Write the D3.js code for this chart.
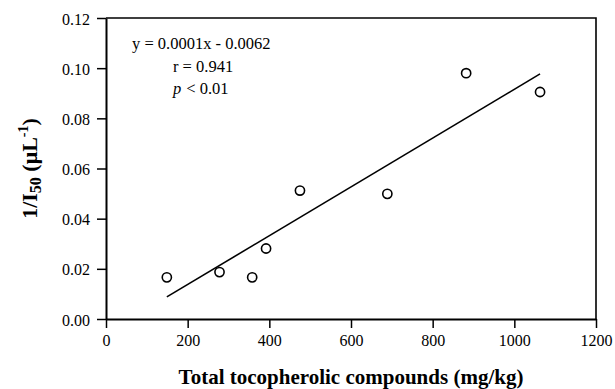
<!DOCTYPE html>
<html>
<head>
<meta charset="utf-8">
<script src="https://cdn.jsdelivr.net/npm/d3@7"></script>
<style>
  body { margin: 0; background: #fff; }
  svg text { font-family: "Liberation Serif", "Times New Roman", serif; fill: #000; }
</style>
</head>
<body>
<svg id="chart" width="615" height="389"></svg>
<script>
const tocopherol = [149, 278, 358, 392, 475, 689, 882, 1063];
const inhibition = [0.0166, 0.0187, 0.0166, 0.0281, 0.0512, 0.0499, 0.0980, 0.0905];
const fitX = [149, 1063];
const fitY = [0.0088, 0.0977];
const xTicks = [0, 200, 400, 600, 800, 1000, 1200];
const yTicks = [0, 0.02, 0.04, 0.06, 0.08, 0.10, 0.12];
const statLines = ['y = 0.0001x - 0.0062', 'r = 0.941', '< 0.01'];

const margin = { top: 18, right: 19, bottom: 70, left: 106 },
  width = 615 - margin.left - margin.right,
  height = 389 - margin.top - margin.bottom;

const svg = d3.select('#chart');
const g = svg.append('g')
  .attr('transform', 'translate(' + margin.left + ',' + margin.top + ')');

const x = d3.scaleLinear().domain([0, 1200]).range([0, width]);
const y = d3.scaleLinear().domain([0, 0.12]).range([height, 0]);

// frame (top + right)
g.append('path')
  .attr('d', 'M0,0H' + width + 'V' + height)
  .attr('fill', 'none')
  .attr('stroke', '#000')
  .attr('stroke-width', 1.6);

const xAxis = g.append('g')
  .attr('transform', 'translate(0,' + height + ')')
  .call(d3.axisBottom(x).tickValues(xTicks).tickSize(9).tickSizeOuter(0).tickPadding(7).tickFormat(d3.format('d')));

const yAxis = g.append('g')
  .call(d3.axisLeft(y).tickValues(yTicks).tickSize(9).tickSizeOuter(0).tickPadding(7).tickFormat(d3.format('.2f')));

[xAxis, yAxis].forEach(function (a) {
  a.select('.domain').attr('stroke-width', 2);
  a.selectAll('.tick line').attr('stroke-width', 1.5);
  a.selectAll('.tick text')
    .style('font-family', '"Liberation Serif", serif')
    .style('font-size', '16px');
});
yAxis.selectAll('.tick text').attr('dy', '0.38em');

// regression line
g.append('line')
  .attr('x1', x(fitX[0])).attr('y1', y(fitY[0]))
  .attr('x2', x(fitX[1])).attr('y2', y(fitY[1]))
  .attr('stroke', '#000')
  .attr('stroke-width', 1.6);

// points
g.selectAll('circle.pt')
  .data(tocopherol)
  .enter().append('circle')
  .attr('class', 'pt')
  .attr('cx', function (d) { return x(d); })
  .attr('cy', function (d, i) { return y(inhibition[i]); })
  .attr('r', 4.6)
  .attr('fill', '#fff')
  .attr('stroke', '#000')
  .attr('stroke-width', 1.6);

// stats text
const statStyle = function (t) { t.style('font-size', '16.5px').style('font-family', '"Liberation Serif", serif'); };
g.append('text').attr('x', 26).attr('y', 31).call(statStyle).text(statLines[0]);
g.append('text').attr('x', 67).attr('y', 54).call(statStyle).text(statLines[1]);
const pt = g.append('text').attr('x', 67).attr('y', 76).call(statStyle);
pt.append('tspan').style('font-style', 'italic').text('p');
pt.append('tspan').attr('dx', 5).text(statLines[2]);

// axis titles
svg.append('text')
  .attr('x', margin.left + width / 2)
  .attr('y', 384)
  .attr('text-anchor', 'middle')
  .style('font-size', '21px')
  .style('font-weight', 'bold')
  .text('Total tocopherolic compounds (mg/kg)');

const yt = svg.append('text')
  .attr('transform', 'translate(37,' + (margin.top + height / 2) + ') rotate(-90)')
  .attr('text-anchor', 'middle')
  .style('font-size', '22px')
  .style('font-weight', 'bold');
yt.append('tspan').text('1/I');
yt.append('tspan').attr('dy', 4).style('font-size', '16px').text('50');
yt.append('tspan').attr('dy', -4).text(' (\u03bcL');
yt.append('tspan').attr('dy', -9).style('font-size', '14px').text('-1');
yt.append('tspan').attr('dy', 9).text(')');
</script>
</body>
</html>
